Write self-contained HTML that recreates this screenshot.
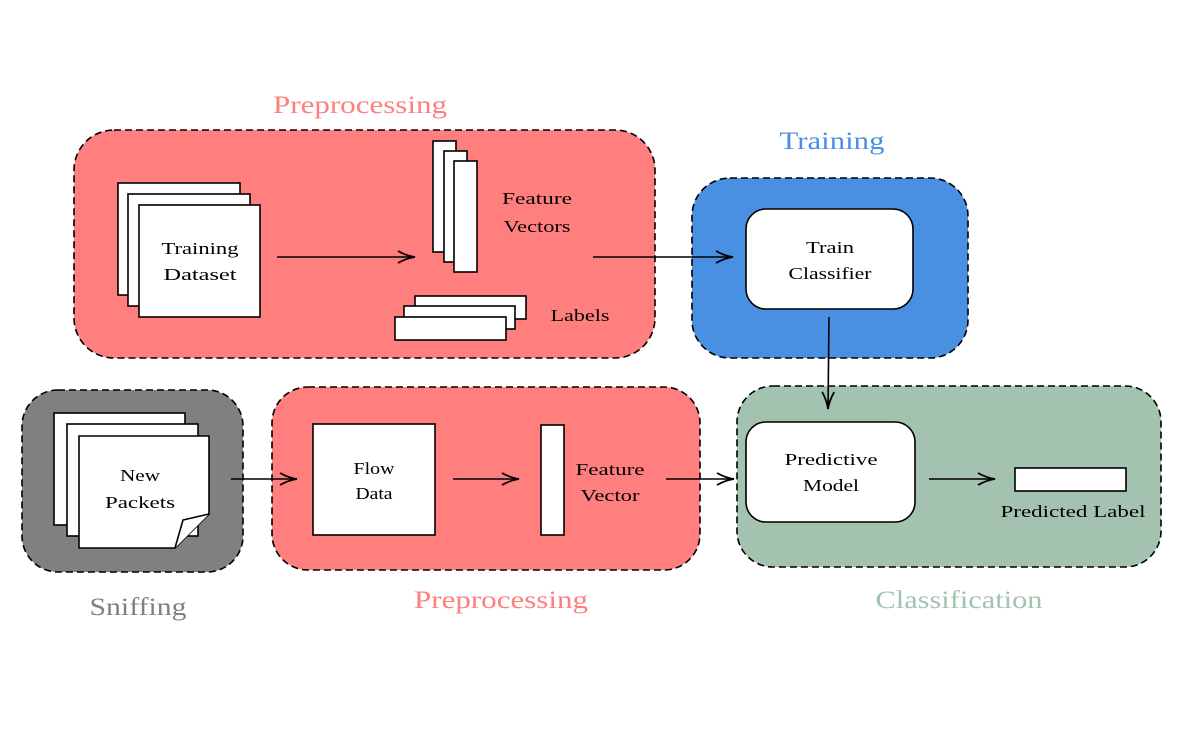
<!DOCTYPE html>
<html><head><style>body{margin:0;background:#fff}svg{display:block}text{font-family:"Liberation Serif",serif}</style></head>
<body>
<svg width="1188" height="743" viewBox="0 0 1188 743" xmlns="http://www.w3.org/2000/svg">
<defs>
<marker id="a" markerWidth="20" markerHeight="14" refX="18" refY="7" orient="auto" markerUnits="userSpaceOnUse">
<path d="M1,1 Q10,6 18,7 Q10,8 1,13" fill="none" stroke="#000" stroke-width="1.8"/>
</marker>
</defs>
<g stroke="#000" stroke-width="1.6" stroke-dasharray="7,4">
<rect x="74" y="130" width="581" height="228" rx="40" fill="#ff7f7f"/>
<rect x="692" y="178" width="276" height="180" rx="38" fill="#4a90e2"/>
<rect x="22" y="390" width="221" height="182" rx="36" fill="#808080"/>
<rect x="272" y="387" width="428" height="183" rx="36" fill="#ff7f7f"/>
<rect x="737" y="386" width="424" height="181" rx="36" fill="#a4c2b0"/>
</g>
<g font-size="25" text-anchor="middle" lengthAdjust="spacingAndGlyphs">
<text x="360" y="113" fill="#ff7f7f" textLength="174" lengthAdjust="spacingAndGlyphs">Preprocessing</text>
<text x="832" y="149" fill="#4a90e2" textLength="105" lengthAdjust="spacingAndGlyphs">Training</text>
<text x="138" y="615" fill="#808080" textLength="97" lengthAdjust="spacingAndGlyphs">Sniffing</text>
<text x="501" y="608" fill="#ff7f7f" textLength="174" lengthAdjust="spacingAndGlyphs">Preprocessing</text>
<text x="959" y="608" fill="#a4c2b0" textLength="167" lengthAdjust="spacingAndGlyphs">Classification</text>
</g>
<g stroke="#000" stroke-width="1.6" fill="#fff">
<rect x="118" y="183" width="122" height="112"/>
<rect x="128" y="194" width="122" height="112"/>
<rect x="139" y="205" width="121" height="112"/>
<rect x="433" y="141" width="23" height="111"/>
<rect x="444" y="151" width="23" height="111"/>
<rect x="454" y="161" width="23" height="111"/>
<rect x="415" y="296" width="111" height="23"/>
<rect x="404" y="306" width="111" height="23"/>
<rect x="395" y="317" width="111" height="23"/>
<rect x="746" y="209" width="167" height="100" rx="20"/>
<rect x="746" y="422" width="169" height="100" rx="20"/>
<rect x="1015" y="468" width="111" height="23"/>
<rect x="54" y="413" width="131" height="112"/>
<rect x="67" y="424" width="131" height="112"/>
<path d="M79,436 H209 V514 L175,548 H79 Z"/>
<path d="M175,548 L183,520 L209,514"/>
<rect x="313" y="424" width="122" height="111"/>
<rect x="541" y="425" width="23" height="110"/>
</g>
<g stroke="#000" stroke-width="1.6" fill="none" marker-end="url(#a)">
<line x1="277" y1="257" x2="415" y2="257"/>
<line x1="593" y1="257" x2="733" y2="257"/>
<line x1="829" y1="317" x2="828" y2="409"/>
<line x1="929" y1="479" x2="995" y2="479"/>
<line x1="231" y1="479" x2="297" y2="479"/>
<line x1="453" y1="479" x2="519" y2="479"/>
<line x1="666" y1="479" x2="734" y2="479"/>
</g>
<g font-size="17" text-anchor="middle" fill="#000">
<text x="200" y="254" textLength="77" lengthAdjust="spacingAndGlyphs">Training</text><text x="200" y="280" textLength="73" lengthAdjust="spacingAndGlyphs">Dataset</text>
<text x="537" y="204" textLength="70" lengthAdjust="spacingAndGlyphs">Feature</text><text x="537" y="232" textLength="67" lengthAdjust="spacingAndGlyphs">Vectors</text>
<text x="580" y="321" textLength="59" lengthAdjust="spacingAndGlyphs">Labels</text>
<text x="830" y="253" textLength="48" lengthAdjust="spacingAndGlyphs">Train</text><text x="830" y="279" textLength="83" lengthAdjust="spacingAndGlyphs">Classifier</text>
<text x="831" y="465" textLength="93" lengthAdjust="spacingAndGlyphs">Predictive</text><text x="831" y="491" textLength="56" lengthAdjust="spacingAndGlyphs">Model</text>
<text x="1073" y="517" textLength="145" lengthAdjust="spacingAndGlyphs">Predicted Label</text>
<text x="140" y="481" textLength="40" lengthAdjust="spacingAndGlyphs">New</text><text x="140" y="508" textLength="70" lengthAdjust="spacingAndGlyphs">Packets</text>
<text x="374" y="474" textLength="41" lengthAdjust="spacingAndGlyphs">Flow</text><text x="374" y="499" textLength="37" lengthAdjust="spacingAndGlyphs">Data</text>
<text x="610" y="475" textLength="69" lengthAdjust="spacingAndGlyphs">Feature</text><text x="610" y="501" textLength="59" lengthAdjust="spacingAndGlyphs">Vector</text>
</g>
</svg>
</body></html>
